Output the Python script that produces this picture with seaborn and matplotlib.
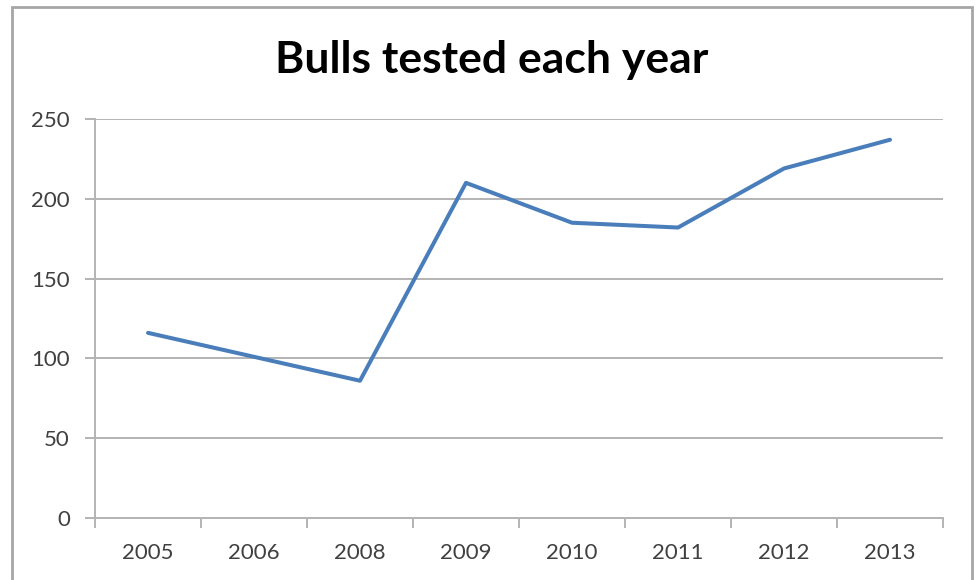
import matplotlib
matplotlib.use("Agg")
import matplotlib.pyplot as plt
import seaborn as sns
import pandas as pd
import numpy as np
from matplotlib.patches import Rectangle

years = ["2005", "2006", "2008", "2009", "2010", "2011", "2012", "2013"]
bulls = [116, 101, 86, 210, 185, 182, 219, 237]
y_ticks = [0, 50, 100, 150, 200, 250]

sns.set_theme(style="white")
plt.rcParams["font.family"] = ["Lato", "DejaVu Sans"]

df = pd.DataFrame({"year": years, "bulls": bulls})
df["pos"] = np.arange(len(years))

fig = plt.figure(figsize=(9.76, 5.8), dpi=100)
ax = fig.add_axes([95 / 976, 1 - 518 / 580, (943 - 95) / 976, (518 - 119) / 580])

grid_c = "#b3b3b3"
for v in y_ticks[1:]:
    ax.axhline(v, color=grid_c, lw=1.4, zorder=0)

sns.lineplot(data=df, x="pos", y="bulls", ax=ax, color="#4a7ebb", lw=2.9,
             sort=False, zorder=3)

ax.set_xlim(-0.5, len(years) - 0.5)
ax.set_ylim(0, 250)
ax.set_xticks(df["pos"])
ax.set_xticklabels(years)
ax.set_xticks(np.arange(-0.5, len(years)), minor=True)
ax.set_yticks(y_ticks)
ax.set_xlabel("")
ax.set_ylabel("")

for s in ["top", "right"]:
    ax.spines[s].set_visible(False)
for s in ["left", "bottom"]:
    ax.spines[s].set_color(grid_c)
    ax.spines[s].set_linewidth(1.4)

ax.tick_params(axis="x", which="major", length=0, pad=18, labelsize=16, labelcolor="#404040")
ax.tick_params(axis="x", which="minor", length=7, width=1.4, color=grid_c, direction="out", bottom=True)
ax.tick_params(axis="y", which="major", length=7, width=1.4, color=grid_c, direction="out",
               left=True, pad=11, labelsize=16, labelcolor="#404040")

fig.text(0.504, 0.897, "Bulls tested each year", ha="center", va="center",
         fontsize=32, fontweight="bold", color="black")

fig.patches.append(Rectangle((12 / 976, -0.05), 960 / 976, 1 - 7 / 580 + 0.05,
                             transform=fig.transFigure, fill=False,
                             edgecolor="#a6a6a6", lw=2))

fig.savefig("out.png", dpi=100)
